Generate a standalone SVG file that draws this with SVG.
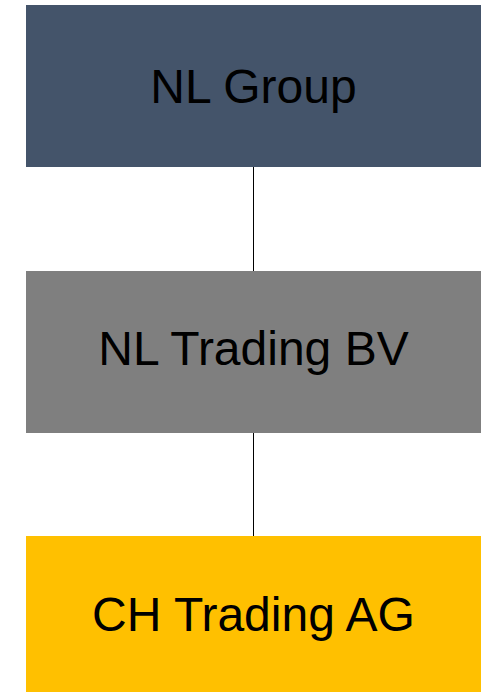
<svg xmlns="http://www.w3.org/2000/svg" width="488" height="692" viewBox="0 0 488 692">
<style>
.lbl{font-family:"Liberation Sans",Arial,sans-serif;font-size:48px;fill:#000;text-anchor:middle}
.conn{stroke:#000;stroke-width:1;fill:none}
</style>
<rect width="488" height="692" fill="#fff"/>
<g id="connectors">
<line class="conn" x1="253.5" y1="167" x2="253.5" y2="271"/>
<line class="conn" x1="253.5" y1="433" x2="253.5" y2="536"/>
</g>
<g id="nl-group">
<rect x="26" y="5" width="455" height="162" fill="#44546A"/>
<text class="lbl" x="253.5" y="103">NL Group</text>
</g>
<g id="nl-trading-bv">
<rect x="26" y="271" width="455" height="162" fill="#7F7F7F"/>
<text class="lbl" x="253.5" y="365">NL Trading BV</text>
</g>
<g id="ch-trading-ag">
<rect x="26" y="536" width="455" height="156" fill="#FFC000"/>
<text class="lbl" x="253.5" y="631">CH Trading AG</text>
</g>
</svg>
